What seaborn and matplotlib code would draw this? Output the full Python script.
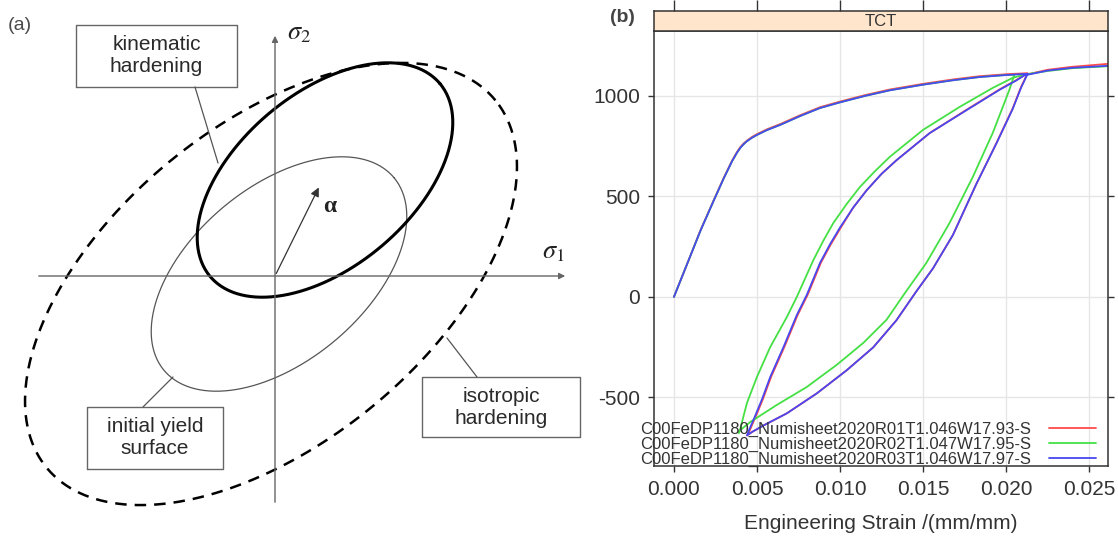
import numpy as np
import pandas as pd
import matplotlib.pyplot as plt
import seaborn as sns
from matplotlib.ticker import FormatStrFormatter

sns.set_theme(style="white")
plt.rcParams['font.family'] = ['Liberation Sans', 'DejaVu Sans']
plt.rcParams['mathtext.fontset'] = 'stix'
plt.rcParams['axes.unicode_minus'] = False

# ---------------- panel (a): yield surface sketch (units ~ pixels, origin at axes crossing)
surf_cx = [4, 50, -4]          # initial, kinematic, isotropic
surf_cy = [2, 96, -8]
surf_a = [150, 150, 290]
surf_b = [87, 87, 159]
surf_tilt = [40, 40, 39.3]
alpha_tip = (45, 91)

box_text = ["kinematic\nhardening", "initial yield\nsurface", "isotropic\nhardening"]
box_x0 = [-199, -188, 147]
box_x1 = [-38, -52, 305]
box_y0 = [189, -193, -161]
box_y1 = [251, -131, -101]
lead_from = [(-80, 189), (-132, -131), (202, -101)]
lead_to = [(-57, 113), (-102, -101), (172, -62)]

# ---------------- panel (b): TCT stress-strain curves
specimens = ["C00FeDP1180_Numisheet2020R01T1.046W17.93-S",
             "C00FeDP1180_Numisheet2020R02T1.047W17.95-S",
             "C00FeDP1180_Numisheet2020R03T1.046W17.97-S"]
colors = ["#ff4a4a", "#44e044", "#4848f0"]

r01_strain = [0.0, 0.0008, 0.0016, 0.0024, 0.0030, 0.0035, 0.0038, 0.0040, 0.0042, 0.0044,
              0.0047, 0.0050, 0.0056, 0.0064, 0.0076, 0.0088, 0.0100, 0.0115, 0.0130, 0.0150,
              0.0168, 0.0184, 0.0200, 0.0213,
              0.0209, 0.0204, 0.0194, 0.0182, 0.0168, 0.0156, 0.0146, 0.0134, 0.0120, 0.0104,
              0.0086, 0.0068, 0.0054, 0.0047, 0.0044,
              0.00455, 0.00495, 0.00535, 0.00585, 0.00665, 0.00745, 0.00805, 0.00885, 0.00945,
              0.01005, 0.0108, 0.0116, 0.0125, 0.0134, 0.0154, 0.0176, 0.0196, 0.0206, 0.0211,
              0.0225, 0.0240, 0.0262]
r01_stress = [0, 165, 332, 482, 593, 678, 722, 746, 764, 778,
              796, 810, 834, 860, 904, 944, 972, 1004, 1032, 1060,
              1082, 1098, 1108, 1113,
              1044, 938, 762, 560, 308, 142, 28, -116, -251, -365,
              -480, -579, -639, -672, -689,
              -667, -590, -510, -398, -249, -90, 10, 170, 262,
              345, 445, 530, 612, 680, 815, 930, 1032, 1078, 1104,
              1130, 1145, 1160]

r02_strain = [0.0, 0.0008, 0.0016, 0.0024, 0.0030, 0.0035, 0.0038, 0.0040, 0.0042, 0.0044,
              0.0047, 0.0050, 0.0056, 0.0064, 0.0076, 0.0088, 0.0100, 0.0115, 0.0130, 0.0150,
              0.0168, 0.0184, 0.0200, 0.0205,
              0.0204, 0.0202, 0.0192, 0.0180, 0.0166, 0.0152, 0.0140, 0.0128, 0.0114, 0.0098,
              0.0080, 0.0062, 0.0046, 0.0040, 0.0039,
              0.0040, 0.0042, 0.0044, 0.0050, 0.0058, 0.0068, 0.0074, 0.0084, 0.0090, 0.0096,
              0.0104, 0.0112, 0.0121, 0.0130, 0.0150, 0.0172, 0.0192, 0.0204, 0.0211,
              0.0225, 0.0240, 0.0262]
r02_stress = [0, 165, 330, 480, 590, 675, 718, 742, 760, 775,
              792, 806, 830, 856, 900, 940, 968, 1000, 1028, 1056,
              1078, 1094, 1104, 1105,
              1080, 1030, 816, 597, 368, 169, 30, -114, -229, -338,
              -448, -537, -622, -662, -677,
              -655, -590, -527, -398, -249, -100, 0, 184, 280, 368,
              462, 547, 625, 697, 831, 945, 1040, 1090, 1106,
              1124, 1138, 1148]

r03_strain = [0.0, 0.0008, 0.0016, 0.0024, 0.0030, 0.0035, 0.0038, 0.0040, 0.0042, 0.0044,
              0.0047, 0.0050, 0.0056, 0.0064, 0.0076, 0.0088, 0.0100, 0.0115, 0.0130, 0.0150,
              0.0168, 0.0184, 0.0200, 0.0213,
              0.0209, 0.0204, 0.0194, 0.0182, 0.0168, 0.0156, 0.0146, 0.0134, 0.0120, 0.0104,
              0.0086, 0.0068, 0.0054, 0.0047, 0.0044,
              0.0045, 0.0049, 0.0053, 0.0058, 0.0066, 0.0074, 0.0080, 0.0088, 0.0094,
              0.0100, 0.0108, 0.0116, 0.0125, 0.0134, 0.0154, 0.0176, 0.0196, 0.0206, 0.0211,
              0.0225, 0.0240, 0.0262]
r03_stress = [0, 165, 330, 480, 590, 675, 718, 742, 760, 775,
              792, 806, 830, 856, 900, 940, 968, 1000, 1028, 1056,
              1078, 1094, 1104, 1110,
              1040, 935, 760, 560, 308, 142, 28, -116, -251, -365,
              -480, -579, -639, -672, -689,
              -667, -590, -510, -398, -249, -90, 10, 170, 262,
              345, 445, 530, 612, 680, 815, 928, 1030, 1076, 1102,
              1126, 1140, 1150]

x_ticks = [0.000, 0.005, 0.010, 0.015, 0.020, 0.025]
y_ticks = [-500, 0, 500, 1000]

frames = []
for name, s, f in zip(specimens, [r01_strain, r02_strain, r03_strain],
                      [r01_stress, r02_stress, r03_stress]):
    frames.append(pd.DataFrame({"strain": s, "stress": f, "specimen": name}))
tct = pd.concat(frames, ignore_index=True)

W, H = 1118, 536
fig = plt.figure(figsize=(W / 100, H / 100), dpi=100)

# ---- (a)
ax_a = fig.add_axes([0, 0, 600 / W, 1])
ax_a.set_xlim(-275, 325)
ax_a.set_ylim(-260, 276)
ax_a.axis('off')

ax_a.annotate('', xy=(0, 243), xytext=(0, -229),
              arrowprops=dict(arrowstyle='-|>', color='#666666', lw=1.0, mutation_scale=9))
ax_a.annotate('', xy=(293, 0), xytext=(-239, 0),
              arrowprops=dict(arrowstyle='-|>', color='#666666', lw=1.0, mutation_scale=9))

t = np.linspace(0, 2 * np.pi, 400)
styles = [dict(color='#555555', lw=0.9),
          dict(color='black', lw=2.2),
          dict(color='black', lw=1.8, dashes=(4.6, 3.2))]
for cx, cy, a, b, th, st in zip(surf_cx, surf_cy, surf_a, surf_b, surf_tilt, styles):
    r = np.deg2rad(th)
    ex = cx + a * np.cos(r) * np.cos(t) - b * np.sin(r) * np.sin(t)
    ey = cy + a * np.sin(r) * np.cos(t) + b * np.cos(r) * np.sin(t)
    ax_a.plot(ex, ey, **st)

ax_a.annotate('', xy=alpha_tip, xytext=(0, 0),
              arrowprops=dict(arrowstyle='-|>', color='#333333', lw=0.9, mutation_scale=13))
ax_a.text(55, 69, 'α', fontsize=17, fontweight='bold', family='Liberation Serif',
          ha='center', va='center', color='#222222')
ax_a.text(24, 243, r'$\sigma_2$', fontsize=19, ha='center', va='center', color='#222222')
ax_a.text(278, 24, r'$\sigma_1$', fontsize=19, ha='center', va='center', color='#222222')
ax_a.text(-255, 251, '(a)', fontsize=14, ha='center', va='center', color='#4a4a4a')

for txt, x0, x1, y0, y1, p0, p1 in zip(box_text, box_x0, box_x1, box_y0, box_y1,
                                        lead_from, lead_to):
    ax_a.plot([x0, x1, x1, x0, x0], [y0, y0, y1, y1, y0], color='#666666', lw=1.0)
    ax_a.plot([p0[0], p1[0]], [p0[1], p1[1]], color='#555555', lw=0.9)
    ax_a.text((x0 + x1) / 2, (y0 + y1) / 2, txt, fontsize=15, ha='center', va='center',
              color='#2a2a2a', linespacing=1.2)

# ---- (b)
ax = fig.add_axes([654 / W, (H - 466) / H, 454 / W, 435 / H])
sns.lineplot(data=tct, x="strain", y="stress", hue="specimen", hue_order=specimens,
             palette=dict(zip(specimens, colors)), sort=False, estimator=None,
             lw=1.3, ax=ax)
ax.set_xlim(-0.0012, 0.02614)
ax.set_ylim(-841, 1323)
ax.set_xticks(x_ticks)
ax.set_yticks(y_ticks)
ax.xaxis.set_major_formatter(FormatStrFormatter('%.3f'))
ax.grid(True, color='#e6e6e6', lw=1.0)
ax.set_axisbelow(True)
for sp in ax.spines.values():
    sp.set_color('#333333')
    sp.set_linewidth(1.1)
ax.tick_params(axis='both', direction='out', length=4.5, width=1, color='#333333',
               labelsize=15, labelcolor='#333333', right=True, labelright=False,
               left=True, bottom=True, top=False)
ax.tick_params(axis='y', pad=5.5)
ax.tick_params(axis='x', pad=5.5)
ax.set_xlabel("Engineering Strain /(mm/mm)", fontsize=15, color='#333333', labelpad=11)
ax.set_ylabel("")

handles, labels = ax.get_legend_handles_labels()
ax.legend(handles, labels, loc='lower left', bbox_to_anchor=(640 / W, (H - 467) / H),
          bbox_transform=fig.transFigure, frameon=False, markerfirst=False,
          fontsize=12, handlelength=2.8, handletextpad=1.1, labelspacing=0.0,
          borderpad=0, borderaxespad=0, labelcolor='#333333')

# strip on top
sax = fig.add_axes([654 / W, (H - 31) / H, 454 / W, 20 / H])
sax.set_facecolor('#ffe5cc')
sax.set_xlim(ax.get_xlim())
sax.set_ylim(0, 1)
sax.set_xticks(x_ticks)
sax.set_yticks([])
sax.tick_params(axis='x', top=True, bottom=False, labeltop=False, labelbottom=False,
                direction='out', length=8, width=1, color='#333333')
for sp in sax.spines.values():
    sp.set_color('#333333')
    sp.set_linewidth(1.1)
sax.text(0.5, 0.5, 'TCT', transform=sax.transAxes, ha='center', va='center',
         fontsize=12, color='#333333')

fig.text(622 / W, 1 - 17 / H, '(b)', fontsize=14, fontweight='bold', ha='center',
         va='center', color='#444444')

fig.savefig("out.png", dpi=100)
